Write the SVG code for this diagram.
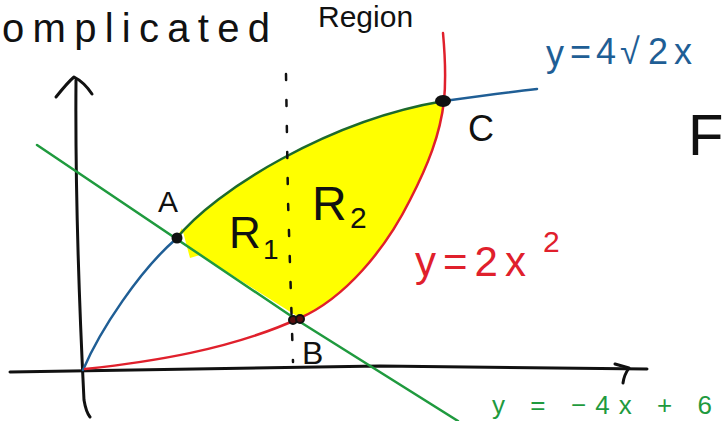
<svg xmlns="http://www.w3.org/2000/svg" width="726" height="421" viewBox="0 0 726 421">
<style>
.ax{fill:none;stroke:#111;stroke-width:3;stroke-linecap:round;stroke-linejoin:round}
.cv{fill:none;stroke-width:2.5;stroke-linecap:round;stroke-linejoin:round}
.t{font-family:"Liberation Sans","DejaVu Sans",sans-serif}
.blk{fill:#111}
</style>
<rect width="726" height="421" fill="#fff"/>
<g id="title" class="t blk">
<text x="2" y="42" font-size="40" textLength="268">omplicated</text>
<text x="318" y="27" font-size="30">Region</text>
<text x="688" y="155" font-size="58">F</text>
</g>
<g id="region">
<path d="M176,239 C215,190 330,120 444,101 C440,135 428,165 410,200 C385,250 345,298 300,318 L200,255 L190,258 L182,228 Z" fill="#ffff00"/>
</g>
<g id="axes">
<path class="ax" d="M76,80 C75,200 80,320 84,400 Q86,412 90,417"/>
<path class="ax" d="M56,97 Q68,82 74,77 Q84,82 92,94"/>
<path class="ax" d="M10,372 L380,366 L647,369"/>
<path class="ax" d="M615,364 L629,368 Q624,375 623,383"/>
</g>
<g id="connectors">
<path class="cv" stroke="#1f5e95" d="M83,370 C100,330 140,270 176,239"/>
<path class="cv" stroke="#1f5e95" d="M444,101 C480,96 510,92 537,89"/>
<path class="cv" stroke="#1d6a2c" d="M176,239 C215,190 330,120 444,101"/>
<path class="cv" stroke="#e0202c" d="M85,369 C150,362 230,350 300,318 C345,298 385,250 410,200 C428,165 440,135 444,101 C446,80 445,55 443,33"/>
<path class="cv" stroke="#1f9a3e" d="M37,145 L297,320 L458,421"/>
<path fill="none" stroke="#111" stroke-width="2.5" stroke-linecap="round" stroke-dasharray="6 20" d="M286,74 L288,200 L293,362"/>
</g>
<g id="A">
<circle cx="177" cy="238" r="5.5" fill="#111"/>
<text class="t blk" x="158" y="212" font-size="30">A</text>
</g>
<g id="B">
<circle cx="293" cy="320" r="4" fill="#5a1010" stroke="#111" stroke-width="2"/>
<circle cx="300" cy="319" r="4" fill="#5a1010" stroke="#111" stroke-width="2"/>
<text class="t blk" x="302" y="364" font-size="32">B</text>
</g>
<g id="C">
<ellipse cx="443" cy="101" rx="8" ry="6" fill="#111"/>
<text class="t blk" x="468" y="141" font-size="36">C</text>
</g>
<g id="R1" class="t blk">
<text x="229" y="248" font-size="44">R</text>
<text x="263" y="259" font-size="28">1</text>
</g>
<g id="R2" class="t blk">
<text x="312" y="220" font-size="48">R</text>
<text x="350" y="228" font-size="30">2</text>
</g>
<g id="red-label" class="t" fill="#e0202c">
<text x="415" y="276" font-size="42" letter-spacing="7">y=2x</text>
<text x="543" y="252" font-size="30">2</text>
</g>
<g id="blue-label" class="t" fill="#1f5e95" font-size="36">
<text x="546" y="66">y</text>
<text x="570" y="64">=</text>
<text x="596" y="64">4</text>
<text x="620" y="64">√</text>
<text x="648" y="64">2</text>
<text x="674" y="64">x</text>
</g>
<g id="green-label" class="t" fill="#1f9a3e">
<text x="492" y="414" font-size="26" textLength="220">y = −4x + 6</text>
</g>
</svg>
